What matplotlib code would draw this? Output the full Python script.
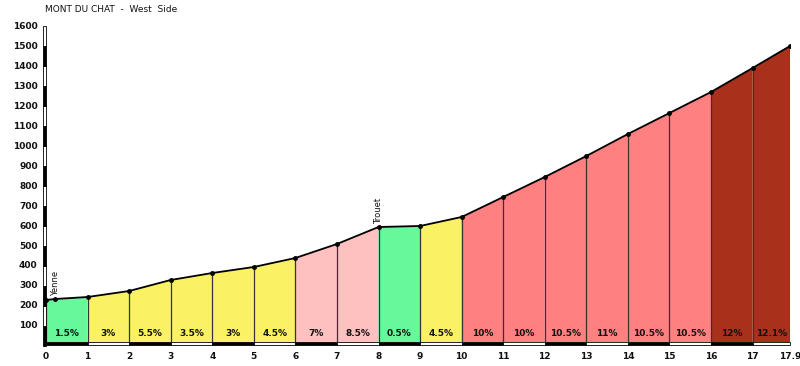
import matplotlib
matplotlib.use("Agg")
import matplotlib.pyplot as plt
from matplotlib.patches import Rectangle, Polygon

title = "MONT DU CHAT  -  West  Side"
km = [0, 1, 2, 3, 4, 5, 6, 7, 8, 9, 10, 11, 12, 13, 14, 15, 16, 17, 17.9]
elev = [230, 245, 275, 330, 365, 395, 440, 510, 595, 600, 645, 745, 845, 950, 1060, 1165, 1270, 1390, 1500]
grades = ["1.5%", "3%", "5.5%", "3.5%", "3%", "4.5%", "7%", "8.5%", "0.5%", "4.5%",
          "10%", "10%", "10.5%", "11%", "10.5%", "10.5%", "12%", "12.1%"]
grade_vals = [1.5, 3, 5.5, 3.5, 3, 4.5, 7, 8.5, 0.5, 4.5, 10, 10, 10.5, 11, 10.5, 10.5, 12, 12.1]
extra_km = [0.22]
extra_elev = [235]
place_names = ["Yenne", "Trouet"]
place_km = [0.22, 8]
place_elev = [235, 595]
xtick_labels = ["0", "1", "2", "3", "4", "5", "6", "7", "8", "9", "10", "11", "12", "13", "14", "15", "16", "17", "17.9"]
ytick_vals = [100, 200, 300, 400, 500, 600, 700, 800, 900, 1000, 1100, 1200, 1300, 1400, 1500, 1600]


def color_for(g):
    if g < 2:
        return "#66F89A"
    if g < 6:
        return "#FAF264"
    if g < 9:
        return "#FFC0C0"
    if g < 12:
        return "#FF8080"
    return "#A9301A"


fig = plt.figure(figsize=(8, 3.66), dpi=100)
ax = fig.add_axes([46 / 800, 20 / 366, 744 / 800, 320 / 366])
ax.set_xlim(0, 17.9)
ax.set_ylim(0, 1600)
ax.axis("off")

base = 20
pts = sorted(list(zip(km, elev)) + list(zip(extra_km, extra_elev)))

for i in range(len(km) - 1):
    x0, x1 = km[i], km[i + 1]
    seg = [(x, y) for x, y in pts if x0 <= x <= x1]
    poly = [(x0, base)] + seg + [(x1, base)]
    ax.add_patch(Polygon(poly, closed=True, facecolor=color_for(grade_vals[i]),
                         edgecolor="none", zorder=1))
    ax.text((x0 + x1) / 2, 65, grades[i], ha="center", va="center",
            fontsize=6.5, fontweight="bold", color="#111111", zorder=4)

for x, y in zip(km, elev):
    ax.plot([x, x], [base, y], color="#333333", lw=0.9, zorder=2)

px = [p[0] for p in pts]
py = [p[1] for p in pts]
ax.plot(px, py, color="black", lw=1.3, zorder=3)
ax.plot(px, py, "o", color="black", ms=2.5, zorder=3)

# bottom strip
for i in range(len(km) - 1):
    fc = "black" if i % 2 == 0 else "white"
    ax.add_patch(Rectangle((km[i], 4), km[i + 1] - km[i], 14, facecolor=fc,
                           edgecolor="black", lw=0.6, zorder=3, clip_on=False))

# left strip
w = 0.065
for j in range(16):
    fc = "black" if j % 2 == 0 else "white"
    ax.add_patch(Rectangle((-w, j * 100), w, 100, facecolor=fc, edgecolor="black",
                           lw=0.6, zorder=3, clip_on=False))

for v in ytick_vals:
    ax.text(-0.2, v, str(v), ha="right", va="center", fontsize=6.5,
            fontweight="bold", color="#111111", clip_on=False)
for x, lab in zip(km, xtick_labels):
    ax.text(x, -30, lab, ha="center", va="top", fontsize=6.5,
            fontweight="bold", color="#111111", clip_on=False)

for name, x, y in zip(place_names, place_km, place_elev):
    ax.text(x, y + 15, name, rotation=90, ha="center", va="bottom",
            fontsize=6, color="#111111", zorder=4)

fig.text(45 / 800, 1 - 10 / 366, title, ha="left", va="center", fontsize=6.5,
         color="#111111")

fig.savefig("out.png", dpi=100, facecolor="white")
